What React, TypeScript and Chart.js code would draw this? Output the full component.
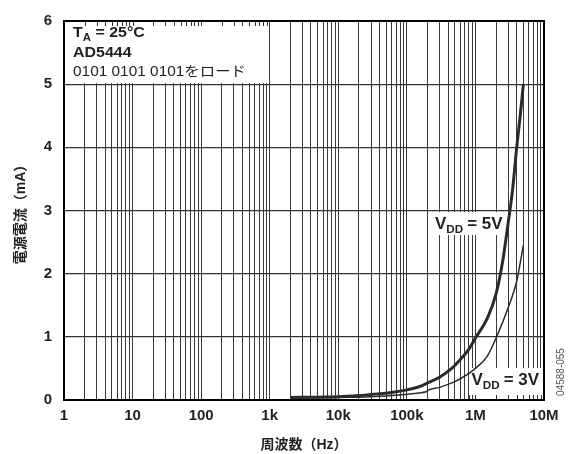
import React, { useEffect, useRef } from 'react';
import { Chart, registerables } from 'chart.js';

Chart.register(...registerables);

// ---- data (frequency in Hz, supply current in mA) ----
const FREQ_5V = [2000, 5000, 10000, 20000, 40000, 60000, 100000, 150000, 200000, 300000, 450000, 600000, 800000, 1000000, 1500000, 2000000, 2500000, 3000000, 3500000, 4000000, 4500000, 5000000];
const CURRENT_5V = [0.04, 0.045, 0.05, 0.07, 0.1, 0.12, 0.16, 0.21, 0.27, 0.36, 0.5, 0.64, 0.8, 0.98, 1.3, 1.68, 2.2, 2.8, 3.35, 4.0, 4.5, 5.0];
const FREQ_3V = [2000, 10000, 30000, 60000, 100000, 150000, 190000, 210000, 300000, 500000, 700000, 1000000, 1500000, 2000000, 3000000, 4000000, 4500000, 5000000];
const CURRENT_3V = [0.03, 0.04, 0.05, 0.07, 0.09, 0.11, 0.13, 0.16, 0.2, 0.29, 0.38, 0.5, 0.7, 0.98, 1.46, 1.88, 2.17, 2.45];

const DECADES = [1, 10, 100, 1000, 10000, 100000, 1000000, 10000000];
const DECADE_LABELS = ['1', '10', '100', '1k', '10k', '100k', '1M', '10M'];
const MINOR_STEPS = [2, 3, 4, 5, 6, 7, 8, 9];
const Y_MIN = 0;
const Y_MAX = 6;

const X_TITLE = '周波数（Hz）';
const Y_TITLE = '電源電流（mA）';
const NOTE_LINE2 = 'AD5444';
const NOTE_LINE3 = '0101 0101 0101をロード';
const FIG_ID = '04588-055';

const INK = '#231f20';
const FONT = '"Liberation Sans", Arial, "Noto Sans CJK JP", sans-serif';

const ALL_X_TICKS: number[] = [];
DECADES.forEach((d, i) => {
  ALL_X_TICKS.push(d);
  if (i < DECADES.length - 1) MINOR_STEPS.forEach((m) => ALL_X_TICKS.push(d * m));
});

function drawScaledText(ctx: CanvasRenderingContext2D, text: string, x: number, y: number, sx: number) {
  ctx.save();
  ctx.translate(x, y);
  ctx.scale(sx, 1);
  ctx.fillText(text, 0, 0);
  const w = ctx.measureText(text).width * sx;
  ctx.restore();
  return w;
}

function drawVdd(ctx: CanvasRenderingContext2D, x: number, y: number, rest: string) {
  const sx = 1.06;
  ctx.font = `bold 16px ${FONT}`;
  let cx = x;
  cx += drawScaledText(ctx, 'V', cx, y, sx);
  ctx.font = `bold 11px ${FONT}`;
  cx += drawScaledText(ctx, 'DD', cx, y + 4, sx);
  ctx.font = `bold 16px ${FONT}`;
  drawScaledText(ctx, rest, cx + 4, y, sx);
}

const overlay = {
  id: 'overlay',
  beforeDatasetsDraw(chart: any) {
    const { ctx, scales, chartArea: a } = chart;
    const x = scales.x;
    const y = scales.y;
    ctx.save();
    ctx.fillStyle = '#ffffff';
    // note box (1 Hz .. 1 kHz, 5 .. 6 mA)
    const bx2 = x.getPixelForValue(1000);
    const by2 = y.getPixelForValue(5);
    ctx.fillRect(a.left, a.top, bx2 - a.left - 1, by2 - a.top - 1);
    // VDD = 5V label box
    ctx.fillRect(430, 212, 75, 23);
    // VDD = 3V label box
    ctx.fillRect(469, 368, 74, a.bottom - 368);
    // inward ticks
    ctx.strokeStyle = '#333';
    ctx.lineWidth = 1;
    ALL_X_TICKS.forEach((v) => {
      const px = Math.round(x.getPixelForValue(v)) + 0.5;
      if (px > a.left + 2 && px < bx2 - 1) {
        ctx.beginPath();
        ctx.moveTo(px, a.top);
        ctx.lineTo(px, a.top + 5);
        ctx.stroke();
      }
      if (px > 469 && px < a.right - 2) {
        ctx.beginPath();
        ctx.moveTo(px, a.bottom);
        ctx.lineTo(px, a.bottom - 5);
        ctx.stroke();
      }
    });
    ctx.restore();
  },
  afterDatasetsDraw(chart: any) {
    const { ctx, chartArea: a } = chart;
    ctx.save();
    ctx.strokeStyle = '#000';
    ctx.lineWidth = 2;
    ctx.strokeRect(a.left, a.top, a.right - a.left, a.bottom - a.top);
    ctx.restore();
  },
  afterDraw(chart: any) {
    const { ctx, chartArea: a } = chart;
    ctx.save();
    ctx.fillStyle = INK;
    ctx.textBaseline = 'alphabetic';
    ctx.textAlign = 'left';
    // note text
    const sx = 1.14;
    let cx = 73;
    ctx.font = `bold 14px ${FONT}`;
    cx += drawScaledText(ctx, 'T', cx, 37, sx);
    ctx.font = `bold 10px ${FONT}`;
    cx += drawScaledText(ctx, 'A', cx, 41, sx);
    ctx.font = `bold 14px ${FONT}`;
    drawScaledText(ctx, ' = 25°C', cx, 37, sx);
    drawScaledText(ctx, NOTE_LINE2, 73, 56.5, sx);
    ctx.font = `14px ${FONT}`;
    drawScaledText(ctx, NOTE_LINE3, 73, 76, 1.1);

    drawVdd(ctx, 435, 228.5, '= 5V');
    drawVdd(ctx, 471.5, 385, '= 3V');

    // axis titles
    ctx.font = `bold 14px ${FONT}`;
    ctx.textAlign = 'center';
    ctx.textBaseline = 'middle';
    ctx.fillText(X_TITLE, (a.left + a.right) / 2, 445);
    ctx.save();
    ctx.translate(21, 211);
    ctx.rotate(-Math.PI / 2);
    ctx.fillText(Y_TITLE, 0, 0);
    ctx.restore();

    // figure id
    ctx.font = `10px ${FONT}`;
    ctx.fillStyle = '#555';
    ctx.save();
    ctx.translate(561, 372);
    ctx.rotate(-Math.PI / 2);
    ctx.fillText(FIG_ID, 0, 0);
    ctx.restore();
    ctx.restore();
  },
};

export default function App() {
  const ref = useRef<HTMLCanvasElement | null>(null);
  useEffect(() => {
    document.body.style.margin = '0';
    const canvas = ref.current;
    if (!canvas) return;
    const chart = new Chart(canvas, {
      type: 'line',
      data: {
        datasets: [
          {
            label: 'VDD = 5V',
            data: FREQ_5V.map((f, i) => ({ x: f, y: CURRENT_5V[i] })),
            borderColor: '#2b2b2b',
            borderWidth: 3,
            pointRadius: 0,
            cubicInterpolationMode: 'monotone',
            fill: false,
          },
          {
            label: 'VDD = 3V',
            data: FREQ_3V.map((f, i) => ({ x: f, y: CURRENT_3V[i] })),
            borderColor: '#2b2b2b',
            borderWidth: 1.5,
            pointRadius: 0,
            cubicInterpolationMode: 'monotone',
            fill: false,
          },
        ],
      },
      options: {
        animation: false,
        responsive: false,
        maintainAspectRatio: false,
        devicePixelRatio: 1,
        layout: { padding: { top: 16, right: 27, left: 0, bottom: 0 } },
        plugins: { legend: { display: false }, tooltip: { enabled: false } },
        scales: {
          x: {
            type: 'logarithmic',
            min: 1,
            max: 10000000,
            afterBuildTicks: (s: any) => {
              s.ticks = ALL_X_TICKS.map((v) => ({ value: v, major: DECADES.includes(v) }));
            },
            afterFit: (s: any) => {
              s.height = 54;
            },
            grid: { color: '#3a3a3a', lineWidth: 1, drawTicks: false },
            border: { display: true, color: '#000', width: 2 },
            ticks: {
              autoSkip: false,
              maxRotation: 0,
              minRotation: 0,
              padding: 7,
              color: INK,
              font: { family: FONT, size: 15, weight: 'bold' },
              callback: (val: any) => {
                const i = DECADES.indexOf(Number(val));
                return i >= 0 ? DECADE_LABELS[i] : '';
              },
            },
          },
          y: {
            type: 'linear',
            min: Y_MIN,
            max: Y_MAX,
            afterFit: (s: any) => {
              s.width = 64;
            },
            grid: { color: '#333', lineWidth: 1.2, drawTicks: false },
            border: { display: true, color: '#000', width: 2 },
            ticks: {
              stepSize: 1,
              padding: 12,
              color: INK,
              font: { family: FONT, size: 15, weight: 'bold' },
            },
          },
        },
      },
      plugins: [overlay],
    } as any);
    return () => chart.destroy();
  }, []);
  return (
    <div style={{ width: 571, height: 454 }}>
      <canvas ref={ref} width={571} height={454} style={{ display: 'block' }} />
    </div>
  );
}
